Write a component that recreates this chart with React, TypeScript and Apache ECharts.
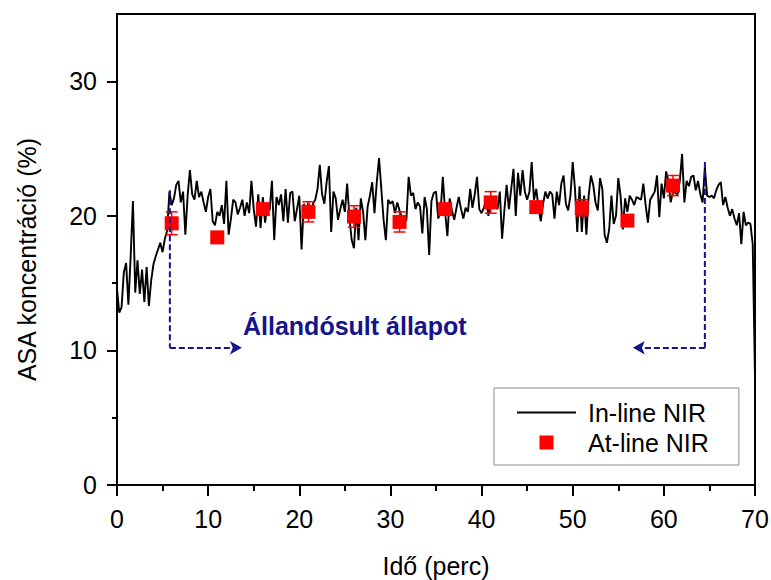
import React, { useEffect, useRef } from 'react';
import * as echarts from 'echarts';

const SAMPLE_STEP = 0.25;
const inlineValues = [
  14.6, 12.8, 13.2, 15.8, 16.5, 13.4, 17.0, 21.1,
  14.3, 16.7, 14.2, 16.0, 13.6, 16.2, 13.3, 15.2,
  16.4, 17.0, 17.5, 18.0, 17.3, 18.3, 18.9, 21.8,
  20.8, 21.3, 22.3, 22.6, 21.0, 21.8, 18.6, 21.5,
  23.4, 21.6, 21.2, 22.6, 21.4, 21.8, 21.0, 20.3,
  21.4, 22.0, 19.6, 19.3, 20.3, 20.0, 20.8, 19.4,
  22.6, 18.6, 19.8, 21.2, 21.0, 20.1, 20.6, 21.2,
  20.0, 21.0, 20.2, 22.6, 20.5, 19.2, 21.6, 19.1,
  21.4, 19.5, 20.9, 20.4, 22.6, 18.2, 21.4, 20.8,
  21.6, 19.6, 22.0, 19.5, 21.7, 21.8, 19.6, 20.5,
  21.5, 17.5, 20.9, 20.2, 21.0, 19.8, 20.9, 21.2,
  22.0, 23.8, 21.6, 20.9, 22.5, 23.7, 18.8, 21.8,
  21.3, 19.7, 20.5, 21.2, 20.3, 22.4, 19.9, 18.2,
  17.6, 20.6, 18.2, 21.3, 20.3, 18.2, 20.7, 21.5,
  22.5, 20.2, 22.5, 24.3, 22.0, 19.7, 18.2, 21.2,
  20.9, 21.1, 20.2, 21.0, 20.4, 19.9, 19.5, 19.7,
  22.9, 21.5, 21.7, 20.5, 21.0, 20.7, 18.7, 21.4,
  20.5, 17.1, 21.1, 21.7, 21.8, 19.8, 20.3, 22.9,
  20.3, 18.5, 21.3, 20.4, 19.7, 20.6, 21.4, 20.5,
  19.8, 20.6, 20.3, 22.0, 20.6, 21.6, 22.9, 20.5,
  20.2, 20.6, 21.2, 20.0, 21.3, 20.6, 20.9, 20.5,
  21.8, 18.3, 20.4, 22.3, 20.5, 22.0, 23.5, 20.0,
  23.2, 21.5, 23.4, 21.8, 21.2, 21.8, 24.0, 21.2,
  22.0, 20.6, 19.6, 20.9, 21.8, 21.3, 21.8, 21.6,
  19.8, 21.8, 20.8, 22.4, 23.0, 20.9, 20.4, 21.5,
  24.0, 22.0, 18.8, 22.2, 18.8, 21.5, 18.6, 21.5,
  23.0, 22.3, 21.0, 20.4, 22.8, 22.0, 18.6, 18.0,
  19.0, 21.5, 19.4, 20.0, 22.8, 21.5, 19.0, 21.3,
  20.3, 21.5, 21.2, 20.8, 21.4, 21.3, 21.2, 22.4,
  20.8, 19.5, 21.2, 21.5, 21.8, 23.0, 19.9, 22.4,
  21.3, 23.3, 22.6, 21.0, 21.8, 21.7, 21.6, 22.6,
  24.6, 21.0, 22.6, 22.2, 22.9, 23.0, 21.9, 22.6,
  21.6, 21.0, 23.6, 21.5, 21.4, 21.5, 21.3, 21.9,
  22.3, 22.5, 20.8, 21.4, 20.6, 20.0, 20.5, 19.8,
  19.3, 20.2, 17.9, 20.3, 19.3, 19.5, 19.4, 17.9,
  8.0,
];

// At-line NIR reference samples
const atlineTime = [6, 11, 16, 21, 26, 31, 36, 41, 46, 51, 56, 61];
const atlineValues = [19.45, 18.4, 20.5, 20.3, 19.95, 19.55, 20.5, 21.0, 20.65, 20.6, 19.65, 22.25];
const atlineErrors = [0.85, 0.3, 0.3, 0.75, 0.8, 0.75, 0.3, 0.8, 0.3, 0.6, 0.3, 0.75];

// Axis ticks
const xMin = 0;
const xMax = 70;
const xInterval = 10;
const yMin = 0;
const yMax = 35;
const yMajorTicks = [0, 10, 20, 30];
const yMinorTicks = [5, 15, 25];

// Steady-state annotation (data coordinates)
const leftBracket = [[5.8, 21.9], [5.8, 10.2]];
const leftArrow = [[5.8, 10.2], [13.7, 10.2]];
const rightBracket = [[64.5, 24.0], [64.5, 10.2]];
const rightArrow = [[64.5, 10.2], [56.6, 10.2]];
const annotationText = 'Állandósult állapot';

const FONT = '"Liberation Sans", Arial, Helvetica, sans-serif';
const NAVY = '#14148c';
const RED = '#ff0000';

export default function App() {
  const ref = useRef<HTMLDivElement>(null);

  useEffect(() => {
    if (!ref.current) return;
    const chart = echarts.init(ref.current, undefined, { renderer: 'svg' });

    const inlineData = inlineValues.map((v, i) => [i * SAMPLE_STEP, v]);
    const atlineData = atlineTime.map((t, i) => [t, atlineValues[i]]);
    const errorData = atlineTime.map((t, i) => [t, atlineValues[i] - atlineErrors[i], atlineValues[i] + atlineErrors[i]]);

    const dashed = { color: NAVY, width: 2, type: [6, 3] as any };

    const option: any = {
      animation: false,
      backgroundColor: '#ffffff',
      textStyle: { fontFamily: FONT },
      grid: {
        left: 117, right: 16, top: 14, bottom: 95,
        containLabel: false, outerBoundsMode: 'none',
        show: true, borderColor: '#000', borderWidth: 2, backgroundColor: 'transparent',
      },
      legend: {
        left: 494, top: 388,
        orient: 'vertical',
        data: [
          { name: 'In-line NIR', icon: 'path://M0,0 L59,0 L59,2 L0,2 Z', itemStyle: { color: '#000' } },
          { name: 'At-line NIR', icon: 'path://M0,0 L14,0 L14,14 L0,14 Z', itemStyle: { color: RED, opacity: 1 } },
        ],
        itemWidth: 59, itemHeight: 14, itemGap: 5,
        symbolKeepAspect: true,
        padding: [12, 30, 10, 23],
        borderColor: '#8c8c8c', borderWidth: 1,
        backgroundColor: '#fff',
        selectedMode: false,
        textStyle: { fontSize: 25, color: '#000', fontFamily: FONT, padding: [0, 0, 0, 7] },
      },
      xAxis: {
        type: 'value', min: xMin, max: xMax, interval: xInterval,
        name: 'Idő (perc)', nameLocation: 'middle', nameGap: 68,
        nameTextStyle: { fontSize: 25, color: '#000', fontFamily: FONT },
        axisLine: { show: true, lineStyle: { color: '#000', width: 2 } },
        axisTick: { show: true, inside: false, length: 11, lineStyle: { color: '#000', width: 2 } },
        minorTick: { show: true, splitNumber: 2, length: 6, lineStyle: { color: '#000', width: 2 } },
        axisLabel: { fontSize: 25, color: '#000', margin: 21, fontFamily: FONT },
        splitLine: { show: false },
      },
      yAxis: [
        {
          type: 'value', min: yMin, max: yMax, interval: 10,
          name: 'ASA koncentráció (%)', nameLocation: 'middle', nameGap: 78,
          nameTextStyle: { fontSize: 25, color: '#000', fontFamily: FONT, padding: [0, 20, 0, 0] },
          axisLine: { show: true, lineStyle: { color: '#000', width: 2 } },
          axisTick: { show: true, inside: false, length: 10, customValues: yMajorTicks, lineStyle: { color: '#000', width: 2 } },
          axisLabel: {
            fontSize: 25, color: '#000', margin: 20, fontFamily: FONT, customValues: yMajorTicks,
            formatter: (v: number) => (yMajorTicks.includes(v) ? String(v) : ''),
          },
          splitLine: { show: false },
        },
        {
          type: 'value', min: yMin, max: yMax, interval: 5, position: 'left',
          axisLine: { show: false },
          axisTick: { show: true, inside: false, length: 5, customValues: yMinorTicks, lineStyle: { color: '#000', width: 2 } },
          axisLabel: { show: false },
          splitLine: { show: false },
        },
      ],
      graphic: [
        {
          type: 'text', x: 243, y: 326, z: 10,
          style: {
            text: annotationText, fill: NAVY,
            fontSize: 25, fontWeight: 'bold', fontFamily: FONT,
            verticalAlign: 'middle', align: 'left',
          },
        },
      ],
      series: [
        {
          name: 'In-line NIR', type: 'line', data: inlineData,
          showSymbol: false, symbol: 'none', z: 2,
          lineStyle: { color: '#000', width: 1.9 }, itemStyle: { color: '#000' },
        },
        {
          name: 'errorbars', type: 'custom', data: errorData, z: 3,
          renderItem: (params: any, api: any) => {
            const x = api.value(0);
            const lo = api.coord([x, api.value(1)]);
            const hi = api.coord([x, api.value(2)]);
            const hw = 6;
            const style = { stroke: RED, lineWidth: 1.5 };
            return {
              type: 'group',
              children: [
                { type: 'line', shape: { x1: lo[0], y1: lo[1], x2: hi[0], y2: hi[1] }, style },
                { type: 'line', shape: { x1: lo[0] - hw, y1: lo[1], x2: lo[0] + hw, y2: lo[1] }, style },
                { type: 'line', shape: { x1: hi[0] - hw, y1: hi[1], x2: hi[0] + hw, y2: hi[1] }, style },
              ],
            };
          },
        },
        {
          name: 'At-line NIR', type: 'scatter', data: atlineData, z: 4,
          symbol: 'rect', symbolSize: 14, itemStyle: { color: RED, opacity: 1 },
        },
        {
          name: 'leftBracket', type: 'line', data: leftBracket, z: 5,
          showSymbol: false, symbol: 'none', lineStyle: dashed,
          markLine: {
            silent: true, symbol: ['none', 'arrow'], symbolSize: [10, 12],
            lineStyle: dashed, label: { show: false },
            data: [[{ coord: leftArrow[0] }, { coord: leftArrow[1] }]],
          },
        },
        {
          name: 'rightBracket', type: 'line', data: rightBracket, z: 5,
          showSymbol: false, symbol: 'none', lineStyle: dashed,
          markLine: {
            silent: true, symbol: ['none', 'arrow'], symbolSize: [10, 12],
            lineStyle: dashed, label: { show: false },
            data: [[{ coord: rightArrow[0] }, { coord: rightArrow[1] }]],
          },
        },
      ],
    };

    chart.setOption(option);
    return () => chart.dispose();
  }, []);

  return (
    <div
      ref={ref}
      style={{ position: 'fixed', left: 0, top: 0, width: 771, height: 580, background: '#fff' }}
    />
  );
}
